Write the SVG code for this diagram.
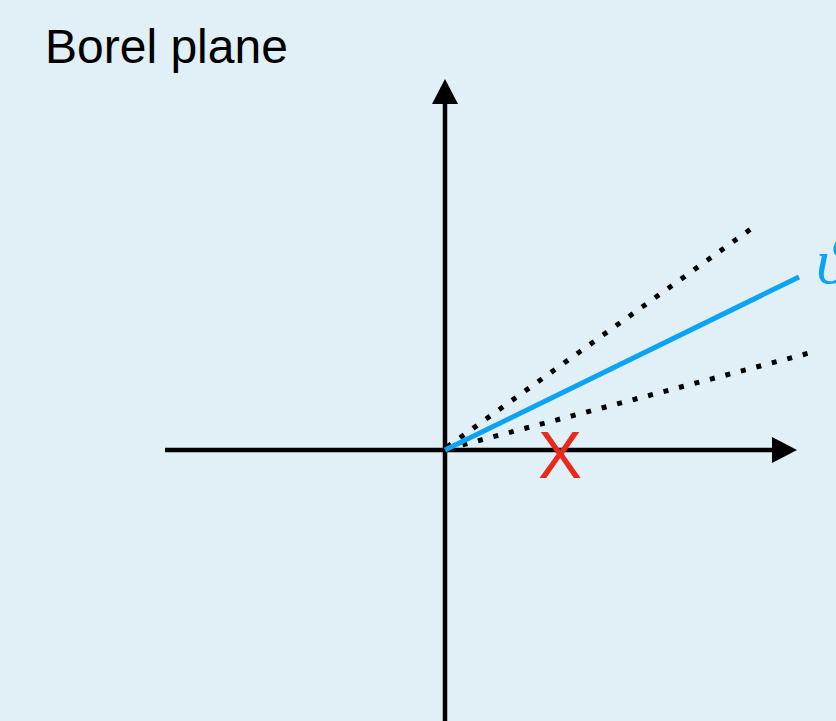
<svg xmlns="http://www.w3.org/2000/svg" width="836" height="721" viewBox="0 0 836 721">
<style>
.axis{stroke:#000;stroke-width:4.5;fill:none}
.dot{stroke:#000;stroke-width:5;stroke-dasharray:5 11;fill:none}
.title{font-family:"Liberation Sans",Arial,sans-serif;font-size:48px;fill:#000}
</style>
<rect width="836" height="721" fill="#E1EFF7"/>
<text id="title" class="title" x="45" y="63">Borel plane</text>
<g id="connectors">
<line class="axis" x1="165" y1="450" x2="776" y2="450"/>
<polygon points="797,450 772,437 772,463" fill="#000"/>
<line class="axis" x1="445" y1="721" x2="445" y2="100"/>
<polygon points="445,79 432,104 458,104" fill="#000"/>
<line class="dot" x1="447" y1="447" x2="755" y2="226"/>
<line class="dot" x1="447" y1="449" x2="813" y2="352"/>
<line stroke="#0AA3F5" stroke-width="5" x1="445" y1="450" x2="799" y2="277"/>
</g>
<g id="singularity">
<text x="560" y="478" text-anchor="middle" font-family="Liberation Sans,Arial,sans-serif" font-size="66" fill="#E8291C">X</text>
</g>
<g id="label">
<text x="816" y="283" font-family="Liberation Serif,serif" font-style="italic" font-size="64" fill="#0AA3F5">ϑ</text>
</g>
</svg>
